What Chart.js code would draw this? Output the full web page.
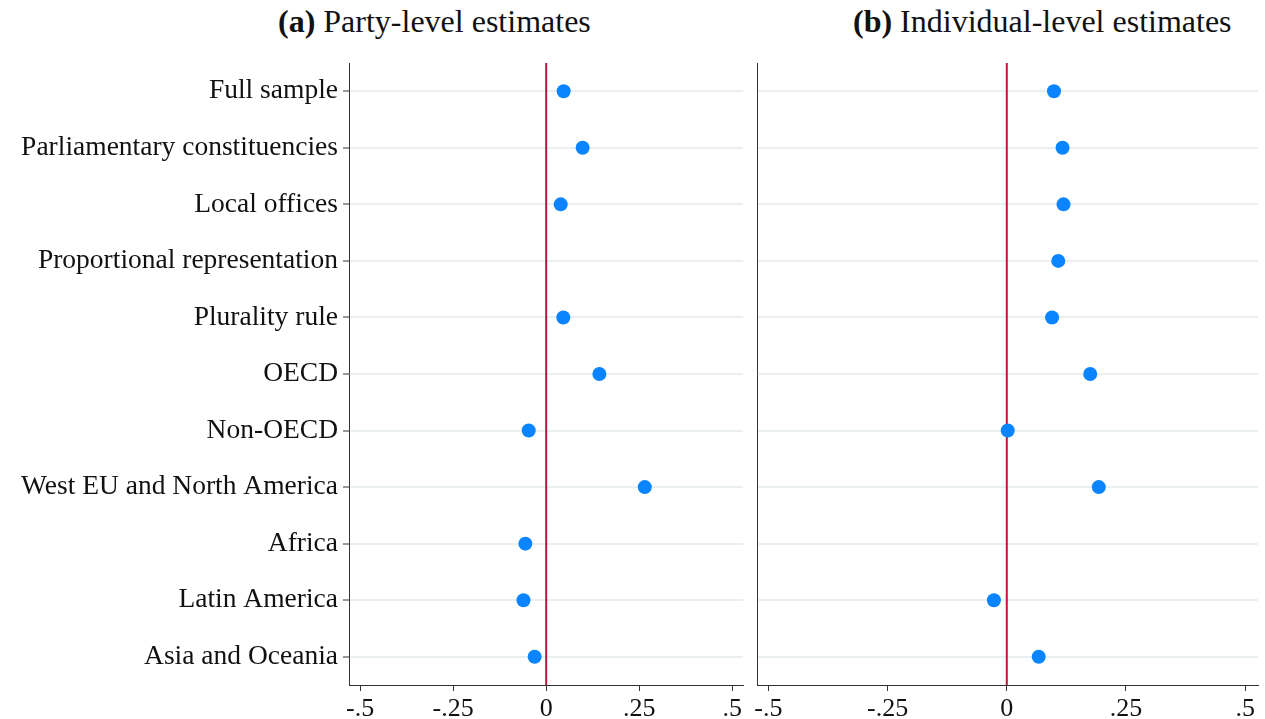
<!DOCTYPE html>
<html>
<head>
<meta charset="utf-8">
<script src="https://cdn.jsdelivr.net/npm/chart.js@4.4.1/dist/chart.umd.min.js"></script>
<style>
  body { margin: 0; background: #fff; }
  #wrap { position: relative; width: 1265px; height: 719px; }
  .ttl { position: absolute; top: 5px; font-family: "Liberation Serif", serif; font-size: 32px; line-height: 32px; color: #111; white-space: nowrap; }
  #c1 { position: absolute; left: 0; top: 0; }
  #c2 { position: absolute; left: 750px; top: 0; }
</style>
</head>
<body>
<div id="wrap">
  <div class="ttl" style="left:278px"><b>(a)</b> Party-level estimates</div>
  <div class="ttl" style="left:853px"><b>(b)</b> Individual-level estimates</div>
  <canvas id="c1" width="750" height="719"></canvas>
  <canvas id="c2" width="515" height="719"></canvas>
</div>
<script>
// subgroups, top to bottom
const categories = [
  "Full sample",
  "Parliamentary constituencies",
  "Local offices",
  "Proportional representation",
  "Plurality rule",
  "OECD",
  "Non-OECD",
  "West EU and North America",
  "Africa",
  "Latin America",
  "Asia and Oceania"
];
// point estimates (null = not shown)
const partyEst = [0.047, 0.098, 0.039, null, 0.046, 0.143, -0.047, 0.265, -0.056, -0.061, -0.031];
const indivEst = [0.099, 0.117, 0.119, 0.108, 0.095, 0.175, 0.002, 0.193, null, -0.027, 0.067];

const xTicks = [-0.5, -0.25, 0, 0.25, 0.5];
const xTickLabels = ["-.5", "-.25", "0", ".25", ".5"];

const yFont = { family: "Liberation Serif", size: 27.5 };
const xFont = { family: "Liberation Serif", size: 26 };

// red reference line at zero, under the dots
const zeroLine = {
  id: "zeroLine",
  beforeDatasetsDraw(chart) {
    let ctx = chart.ctx;
    let a = chart.chartArea;
    let x = chart.scales.x.getPixelForValue(0);
    ctx.save();
    ctx.strokeStyle = "#c0143c";
    ctx.lineWidth = 2;
    ctx.beginPath();
    ctx.moveTo(x, a.top);
    ctx.lineTo(x, a.bottom);
    ctx.stroke();
    ctx.restore();
  }
};

function makePanel(id, values, xmin, xmax, showLabels, yWidth, rightPad) {
  return new Chart(document.getElementById(id), {
    type: "line",
    data: {
      labels: categories,
      datasets: [
        {
          data: values,
          showLine: false,
          pointRadius: 7,
          pointHoverRadius: 7,
          pointBackgroundColor: "#0a84ff",
          pointBorderWidth: 0
        }
      ]
    },
    options: {
      indexAxis: "y",
      responsive: false,
      animation: false,
      layout: { padding: { top: 63, right: rightPad, left: 0, bottom: 0 } },
      plugins: { legend: { display: false }, tooltip: { enabled: false } },
      scales: {
        x: {
          type: "linear",
          min: xmin,
          max: xmax,
          afterBuildTicks: (s) => { s.ticks = xTicks.map((v) => ({ value: v })); },
          afterFit: (s) => { s.height = 34; s.paddingLeft = 0; s.paddingRight = 0; },
          ticks: {
            font: xFont,
            color: "#111",
            padding: 3,
            maxRotation: 0,
            autoSkip: false,
            callback: (v) => xTickLabels[xTicks.indexOf(v)]
          },
          grid: { drawOnChartArea: false, drawTicks: true, tickLength: 6, tickColor: "#333", tickWidth: 1 },
          border: { display: true, color: "#333", width: 1 }
        },
        y: {
          type: "category",
          offset: true,
          afterFit: (s) => { s.width = yWidth; s.paddingTop = 0; s.paddingBottom = 0; },
          ticks: { display: showLabels, font: yFont, color: "#111", padding: 5, autoSkip: false },
          grid: {
            offset: false,
            color: "#eaeff2",
            lineWidth: 2,
            drawTicks: showLabels,
            tickLength: 6,
            tickColor: "#333",
            tickWidth: 1
          },
          border: { display: true, color: "#333", width: 1 }
        }
      }
    },
    plugins: [zeroLine]
  });
}

makePanel("c1", partyEst, -0.53, 0.529, true, 349, 6);
makePanel("c2", indivEst, -0.524, 0.527, false, 7, 7);
</script>
</body>
</html>
